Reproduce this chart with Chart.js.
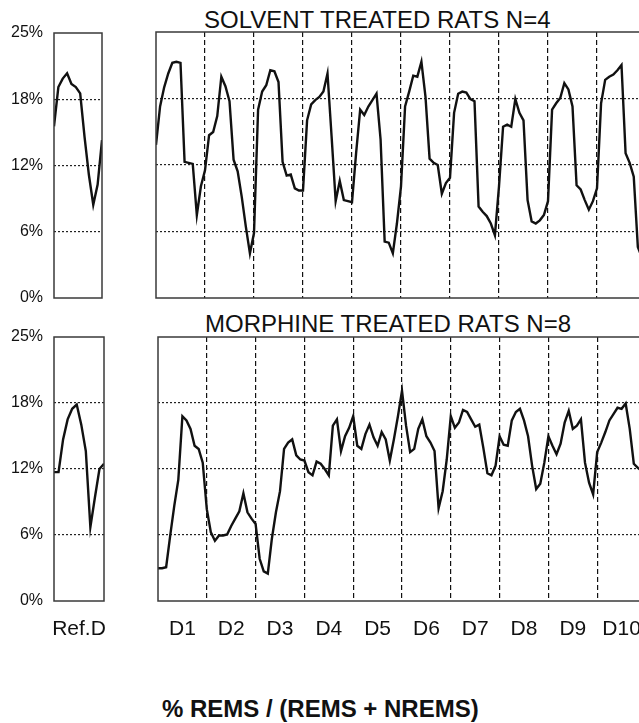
<!DOCTYPE html>
<html>
<head>
<meta charset="utf-8">
<script src="https://cdn.jsdelivr.net/npm/chart.js@4.4.1/dist/chart.umd.min.js"></script>
<style>
  html, body { margin: 0; padding: 0; background: #fff; }
  body {
    width: 639px; height: 723px; overflow: hidden; position: relative;
    font-family: "Liberation Sans", Arial, sans-serif; color: #111;
  }
  canvas { position: absolute; }
  .panel-title { position: absolute; font-size: 24px; line-height: 24px; white-space: nowrap; }
  .footer { position: absolute; left: 162px; top: 697px; font-size: 24px; line-height: 24px; font-weight: bold; white-space: nowrap; }
</style>
</head>
<body>
<div class="panel-title" style="left:204px; top:8px">SOLVENT TREATED RATS N=4</div>
<div class="panel-title" style="left:205px; top:312px">MORPHINE TREATED RATS N=8</div>

<canvas id="refTop" width="120" height="310" style="left:0; top:0"></canvas>
<canvas id="mainTop" width="560" height="310" style="left:100px; top:0"></canvas>
<canvas id="refBottom" width="120" height="350" style="left:0; top:310px"></canvas>
<canvas id="mainBottom" width="560" height="350" style="left:100px; top:310px"></canvas>

<div class="footer">% REMS / (REMS + NREMS)</div>

<script>
// tick labels
const yTickValues = [0, 6.25, 12.5, 18.75, 25];
const yTickLabels = ["0%", "6%", "12%", "18%", "25%"];
const dayLabels = ["D1", "D2", "D3", "D4", "D5", "D6", "D7", "D8", "D9", "D10"];
const refLabel = "Ref.D";
const pointsPerDay = 12;

// % REMS, reference day (12 bins)
const solventRef = [16.2, 19.9, 20.7, 21.2, 20.2, 19.9, 19.3, 15.2, 11.6, 8.8, 10.7, 14.9];
const morphineRef = [12.2, 12.2, 15.3, 17.2, 18.2, 18.6, 16.7, 14.2, 7.0, 9.8, 12.5, 13.0];

// % REMS, days 1-10 (12 bins per day)
const solventDays = [
  14.4, 18.0, 19.8, 21.1, 22.1, 22.2, 22.1, 12.8, 12.7, 12.6, 7.8, 10.5,
  12.0, 15.3, 15.6, 17.1, 20.8, 19.9, 18.5, 13.0, 11.9, 9.5, 6.7, 4.2,
  6.1, 17.7, 19.4, 20.0, 21.4, 21.3, 20.3, 12.8, 11.5, 11.6, 10.3, 10.1,
  10.1, 16.7, 18.2, 18.6, 18.9, 19.4, 21.1, 15.2, 9.1, 11.0, 9.2, 9.1,
  9.0, 13.6, 17.7, 17.2, 18.0, 18.6, 19.2, 14.9, 5.3, 5.2, 4.2, 7.0,
  10.5, 18.0, 19.4, 20.9, 20.8, 22.2, 18.9, 13.1, 12.7, 12.5, 9.8, 10.8,
  11.3, 17.4, 19.2, 19.4, 19.3, 18.7, 18.5, 8.6, 8.1, 7.7, 7.0, 5.9,
  10.5, 16.1, 16.3, 16.1, 18.7, 17.4, 16.7, 9.2, 7.2, 7.0, 7.3, 7.8,
  9.1, 17.7, 18.3, 18.8, 20.2, 19.6, 18.0, 10.6, 10.2, 9.2, 8.3, 9.1,
  10.3, 18.3, 20.5, 20.8, 21.0, 21.4, 21.9, 13.6, 12.7, 11.4, 4.8, 3.8
];
const morphineDays = [
  3.1, 3.1, 3.2, 6.2, 9.0, 11.5, 17.5, 17.1, 16.3, 14.7, 14.4, 13.1,
  8.7, 6.5, 5.7, 6.2, 6.2, 6.3, 7.1, 7.8, 8.5, 10.2, 8.4, 7.8,
  7.3, 4.0, 2.8, 2.6, 5.9, 8.4, 10.4, 14.4, 15.0, 15.3, 13.8, 13.4,
  13.3, 12.2, 11.9, 13.2, 13.0, 12.5, 11.9, 16.6, 17.2, 14.2, 15.6, 16.4,
  17.5, 14.7, 14.4, 15.8, 16.7, 15.5, 14.7, 16.0, 15.3, 13.3, 15.3, 17.5,
  19.9, 16.6, 14.1, 14.4, 16.3, 17.2, 15.6, 15.0, 14.2, 8.8, 10.4, 13.4,
  17.5, 16.4, 16.9, 18.1, 17.9, 17.2, 16.5, 16.7, 14.5, 12.1, 11.9, 12.8,
  15.6, 14.8, 14.7, 17.1, 17.9, 18.2, 17.1, 15.6, 12.8, 10.6, 11.1, 13.1,
  15.6, 14.7, 13.9, 14.9, 16.9, 18.0, 16.3, 16.6, 17.2, 13.1, 11.2, 10.1,
  14.1, 15.0, 16.0, 17.1, 17.7, 18.3, 18.2, 18.7, 16.3, 13.0, 12.6, 12.3
];

const fontFamily = '"Liberation Sans", Arial, sans-serif';
const inkColor = "#111";

// box around every plot area
const framePlugin = {
  id: "frame",
  afterDatasetsDraw(chart) {
    const { ctx, chartArea: a } = chart;
    ctx.save();
    ctx.strokeStyle = "#3a3a3a";
    ctx.lineWidth = 1.5;
    ctx.strokeRect(a.left, a.top, a.right - a.left, a.bottom - a.top);
    ctx.restore();
  }
};

// label offsets go through tickLength (invisible ticks) so the layout keeps the plot boxes where they are
function yScale(showLabels, width) {
  return {
    min: 0,
    max: 25,
    afterBuildTicks: s => { s.ticks = yTickValues.map(v => ({ value: v })); },
    afterFit: s => { s.width = width; },
    border: { display: false, dash: [2, 2] },
    grid: {
      drawTicks: true,
      tickLength: 11,
      tickColor: "transparent",
      lineWidth: 1.2,
      color: c => (c.tick && c.tick.value > 0 && c.tick.value < 25 ? "#222" : "transparent")
    },
    ticks: {
      display: showLabels,
      padding: 0,
      color: inkColor,
      font: { family: fontFamily, size: 16 },
      callback: (v, i) => yTickLabels[i]
    }
  };
}

function dayScale(showLabels, height) {
  const total = dayLabels.length * pointsPerDay;
  return {
    type: "linear",
    min: 0,
    max: total,
    afterBuildTicks: s => {
      s.ticks = dayLabels.flatMap((d, i) => [{ value: i * pointsPerDay }, { value: i * pointsPerDay + pointsPerDay / 2 }]);
      s.ticks.push({ value: total });
    },
    afterFit: s => { s.height = height; },
    border: { display: false, dash: [5, 3] },
    grid: {
      drawTicks: true,
      tickLength: 16,
      tickColor: "transparent",
      lineWidth: 1.2,
      color: c => (c.tick && c.tick.value % pointsPerDay === 0 && c.tick.value > 0 && c.tick.value < total ? inkColor : "transparent")
    },
    ticks: {
      display: showLabels,
      autoSkip: false,
      maxRotation: 0,
      padding: 0,
      color: inkColor,
      font: { family: fontFamily, size: 21 },
      callback: v => (v % pointsPerDay === pointsPerDay / 2 ? dayLabels[(v - pointsPerDay / 2) / pointsPerDay] : "")
    }
  };
}

function refScale(showLabel, height) {
  const mid = (pointsPerDay - 1) / 2;
  return {
    type: "linear",
    min: 0,
    max: pointsPerDay - 1,
    afterBuildTicks: s => { s.ticks = [{ value: 0 }, { value: mid }, { value: pointsPerDay - 1 }]; },
    afterFit: s => { s.height = height; },
    border: { display: false },
    grid: { display: false, drawTicks: true, tickLength: 16 },
    ticks: {
      display: showLabel,
      autoSkip: false,
      maxRotation: 0,
      padding: 0,
      color: inkColor,
      font: { family: fontFamily, size: 21 },
      callback: v => (v === mid ? refLabel : "")
    }
  };
}

function makeChart(id, values, xScale, yAxis, padding) {
  return new Chart(document.getElementById(id), {
    type: "line",
    data: {
      datasets: [{
        data: values.map((v, i) => ({ x: i, y: v })),
        borderColor: inkColor,
        borderWidth: 2.4,
        pointRadius: 0,
        tension: 0,
        fill: false
      }]
    },
    options: {
      responsive: false,
      animation: false,
      events: [],
      layout: { autoPadding: false, padding: padding },
      plugins: { legend: { display: false }, tooltip: { enabled: false } },
      scales: { x: xScale, y: yAxis }
    },
    plugins: [framePlugin]
  });
}

makeChart("refTop", solventRef, refScale(false, 12), yScale(true, 54), { left: 0, right: 18, top: 33, bottom: 0 });
makeChart("mainTop", solventDays, dayScale(false, 12), yScale(false, 56), { left: 0, right: 14, top: 32, bottom: 0 });
makeChart("refBottom", morphineRef, refScale(true, 59), yScale(true, 54), { left: 0, right: 16, top: 27, bottom: 0 });
makeChart("mainBottom", morphineDays, dayScale(true, 59), yScale(false, 58), { left: 0, right: 14, top: 27, bottom: 0 });
</script>
</body>
</html>
